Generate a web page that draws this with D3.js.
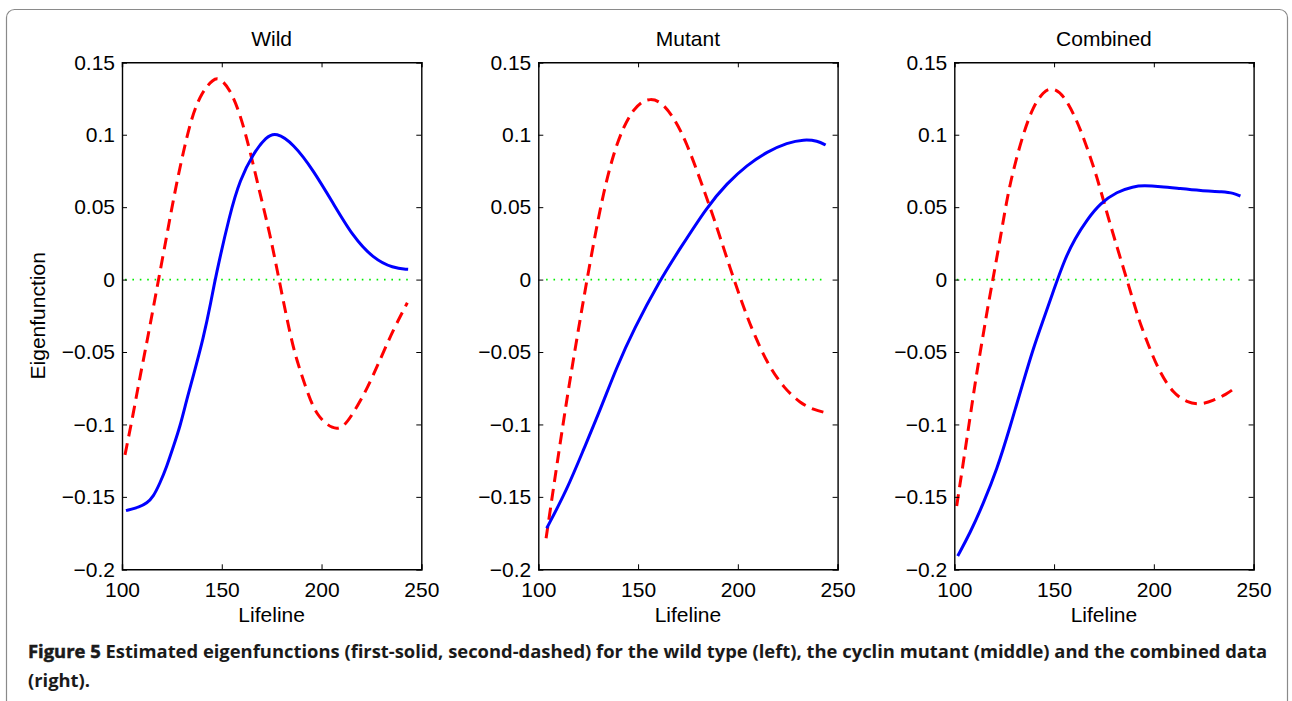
<!DOCTYPE html>
<html>
<head>
<meta charset="utf-8">
<script src="https://cdn.jsdelivr.net/npm/d3@7"></script>
<style>
  body { margin: 0; background: #fff; }
  svg { display: block; }
</style>
</head>
<body>
<div id="fig"></div>
<script>
// values (Lifeline, eigenfunction)
const panelTitles = ["Wild", "Mutant", "Combined"];
const xTicks = [100, 150, 200, 250];
const yTicks = [0.15, 0.1, 0.05, 0, -0.05, -0.1, -0.15, -0.2];

const wildFirstX = [102, 109, 112.4, 115.7, 119, 122.4, 125.7, 129.1, 132.4, 135.7, 140.7, 144.8, 146.6, 154.1, 159.1, 165.8, 172.4, 177.1, 185.8, 195.8, 205.8, 215.8, 225.8, 235.9, 243.4];
const wildFirstY = [-0.1595, -0.1568, -0.1544, -0.1499, -0.1406, -0.1292, -0.1154, -0.1015, -0.0831, -0.0665, -0.041, -0.014, 0, 0.0458, 0.0688, 0.0872, 0.0987, 0.1018, 0.094, 0.0757, 0.0527, 0.0296, 0.0147, 0.0078, 0.0071];
const wildSecondX = [101.5, 105.7, 109, 112.4, 118.3, 122.4, 125.7, 129.8, 134.9, 139.9, 145.7, 149, 154.1, 159.1, 164.1, 169.1, 174.1, 178.7, 184.1, 187.5, 192.5, 197.6, 205.9, 210.9, 215.9, 222.6, 229.3, 235.9, 243];
const wildSecondY = [-0.121, -0.0923, -0.067, -0.044, 0, 0.03, 0.055, 0.0826, 0.1125, 0.1292, 0.1385, 0.1393, 0.1315, 0.1148, 0.0895, 0.0596, 0.032, 0, -0.037, -0.0555, -0.0762, -0.0945, -0.1037, -0.1022, -0.0923, -0.0762, -0.0555, -0.0348, -0.016];

const mutantFirstX = [104.2, 114.3, 122.6, 131, 139.4, 147.7, 161.1, 171.1, 184.6, 194.6, 204.6, 214.7, 224.8, 233.1, 240, 244];
const mutantFirstY = [-0.1717, -0.1452, -0.1176, -0.09, -0.0601, -0.0348, 0, 0.0215, 0.0503, 0.0665, 0.0791, 0.0883, 0.0945, 0.0968, 0.0958, 0.0929];
const mutantSecondX = [103.9, 106, 109.2, 112.6, 115.1, 117.6, 120.9, 124.4, 128.5, 132.6, 137.7, 142.7, 147.7, 152, 156.1, 161.1, 167.8, 174.5, 181.2, 186.2, 191.2, 198, 204.6, 208, 214.7, 223.1, 231.5, 238, 244];
const mutantSecondY = [-0.1786, -0.159, -0.129, -0.098, -0.076, -0.055, -0.028, 0, 0.031, 0.0596, 0.0872, 0.1056, 0.1175, 0.123, 0.1248, 0.1232, 0.1125, 0.094, 0.0688, 0.0495, 0.029, 0, -0.0256, -0.037, -0.0578, -0.075, -0.0855, -0.0898, -0.0919];

const combinedFirstX = [101.7, 107.9, 114.6, 121.3, 128, 134.7, 139.6, 144.6, 150, 155.5, 160.5, 166.4, 173.1, 181.5, 189.8, 194.9, 203.2, 213.2, 223.3, 234.9, 240, 243.4];
const combinedFirstY = [-0.1908, -0.1751, -0.1544, -0.1314, -0.1015, -0.07, -0.0474, -0.0279, -0.0065, 0.0145, 0.0285, 0.0411, 0.0527, 0.0607, 0.0643, 0.0649, 0.0643, 0.0628, 0.0614, 0.0607, 0.0597, 0.0577];
const combinedSecondX = [101.2, 103.7, 106.2, 108.7, 111.2, 114.6, 117.1, 119.6, 122.9, 126.3, 129.6, 134.6, 139.6, 144.7, 148.9, 154.7, 161.4, 166.4, 171.5, 176.5, 181.5, 186.5, 190.7, 193.2, 198.2, 203.2, 209.9, 216.6, 223.3, 230, 236, 241.5];
const combinedSecondY = [-0.1563, -0.1337, -0.1107, -0.0877, -0.0647, -0.037, -0.0165, 0.002, 0.0273, 0.055, 0.076, 0.101, 0.1198, 0.1298, 0.1328, 0.128, 0.1102, 0.0918, 0.071, 0.0458, 0.0227, 0, -0.0195, -0.0305, -0.0486, -0.0647, -0.0788, -0.0848, -0.0864, -0.0834, -0.0795, -0.074];

const captionBold = "Figure 5";
const captionLine1 = " Estimated eigenfunctions (first-solid, second-dashed) for the wild type (left), the cyclin mutant (middle) and the combined data";
const captionLine2 = "(right).";

const width = 1292;
const height = 701;
const plotLefts = [122, 538.3, 954.3];
const plotW = 299.3;
const plotTop = 62.3;
const plotH = 507;
const font = "'Liberation Sans', Arial, Helvetica, sans-serif";
const fontSize = "21px";

const panels = [
    {first: [wildFirstX, wildFirstY], second: [wildSecondX, wildSecondY]},
    {first: [mutantFirstX, mutantFirstY], second: [mutantSecondX, mutantSecondY]},
    {first: [combinedFirstX, combinedFirstY], second: [combinedSecondX, combinedSecondY]}
];

let svg = d3.select("#fig").append("svg")
    .attr("width", width)
    .attr("height", height);

svg.append("rect")
    .attr("x", 6.5)
    .attr("y", 9.5)
    .attr("width", 1281)
    .attr("height", 720)
    .attr("rx", 8)
    .attr("fill", "none")
    .attr("stroke", "#8a8a8a")
    .attr("stroke-width", 1.2);

const zip = (xs, ys) => xs.map((x, i) => [x, ys[i]]);

panels.forEach((p, i) => {
    let g = svg.append("g")
        .attr("transform", `translate(${plotLefts[i]},${plotTop})`);

    let xScale = d3.scaleLinear().domain([100, 250]).range([0, plotW]);
    let yScale = d3.scaleLinear().domain([-0.2, 0.15]).range([plotH, 0]);

    // zero reference line
    let allX = p.first[0].concat(p.second[0]);
    g.append("line")
        .attr("x1", xScale(d3.min(allX)))
        .attr("x2", xScale(d3.max(allX)))
        .attr("y1", yScale(0))
        .attr("y2", yScale(0))
        .attr("stroke", "#00ee00")
        .attr("stroke-width", 1.6)
        .attr("stroke-dasharray", "1.6,5.8");

    let line = d3.line()
        .x(d => xScale(d[0]))
        .y(d => yScale(d[1]))
        .curve(d3.curveBasis);

    g.append("path")
        .attr("d", line(zip(p.second[0], p.second[1])))
        .attr("fill", "none")
        .attr("stroke", "#ff0000")
        .attr("stroke-width", 3)
        .attr("stroke-dasharray", "12,7");

    g.append("path")
        .attr("d", line(zip(p.first[0], p.first[1])))
        .attr("fill", "none")
        .attr("stroke", "#0000ff")
        .attr("stroke-width", 3);

    // box with inward ticks on all sides
    let axB = g.append("g").attr("transform", `translate(0,${plotH})`)
        .call(d3.axisBottom(xScale).tickValues(xTicks).tickSize(-5).tickPadding(13).tickFormat(d3.format("d")));
    let axT = g.append("g")
        .call(d3.axisTop(xScale).tickValues(xTicks).tickSize(-5).tickFormat(""));
    let axL = g.append("g")
        .call(d3.axisLeft(yScale).tickValues(yTicks).tickSize(-5).tickPadding(7)
            .tickFormat(d => d === 0 ? "0" : d3.format("")(d).replace("-", "\u2212")));
    let axR = g.append("g").attr("transform", `translate(${plotW},0)`)
        .call(d3.axisRight(yScale).tickValues(yTicks).tickSize(-5).tickFormat(""));

    [axB, axT, axL, axR].forEach(a => {
        a.selectAll(".domain").attr("stroke", "#000").attr("stroke-width", 1.4);
        a.selectAll(".tick line").attr("stroke", "#000").attr("stroke-width", 1);
        a.selectAll("text")
            .style("font-family", font)
            .style("font-size", fontSize)
            .attr("fill", "#000");
    });

    g.append("text")
        .attr("x", plotW / 2)
        .attr("y", 46 - plotTop)
        .attr("text-anchor", "middle")
        .style("font-family", font)
        .style("font-size", fontSize)
        .text(panelTitles[i]);

    g.append("text")
        .attr("x", plotW / 2)
        .attr("y", 622 - plotTop)
        .attr("text-anchor", "middle")
        .style("font-family", font)
        .style("font-size", fontSize)
        .text("Lifeline");

    if (i === 0) {
        g.append("text")
            .attr("transform", `translate(${45 - plotLefts[0]},${plotH / 2}) rotate(-90)`)
            .attr("text-anchor", "middle")
            .style("font-family", font)
            .style("font-size", fontSize)
            .text("Eigenfunction");
    }
});

// caption
let cap = svg.append("text")
    .attr("x", 28)
    .attr("y", 658)
    .attr("textLength", 1239)
    .attr("lengthAdjust", "spacingAndGlyphs")
    .style("font-family", "'Open Sans', sans-serif")
    .style("font-size", "18px")
    .style("font-weight", 700)
    .attr("fill", "#1a1a1a");
cap.append("tspan")
    .attr("stroke", "#1a1a1a")
    .attr("stroke-width", 0.5)
    .text(captionBold);
cap.append("tspan").text(captionLine1);

svg.append("text")
    .attr("x", 28)
    .attr("y", 687)
    .attr("textLength", 62)
    .attr("lengthAdjust", "spacingAndGlyphs")
    .style("font-family", "'Open Sans', sans-serif")
    .style("font-size", "18px")
    .style("font-weight", 700)
    .attr("fill", "#1a1a1a")
    .text(captionLine2);
</script>
</body>
</html>
